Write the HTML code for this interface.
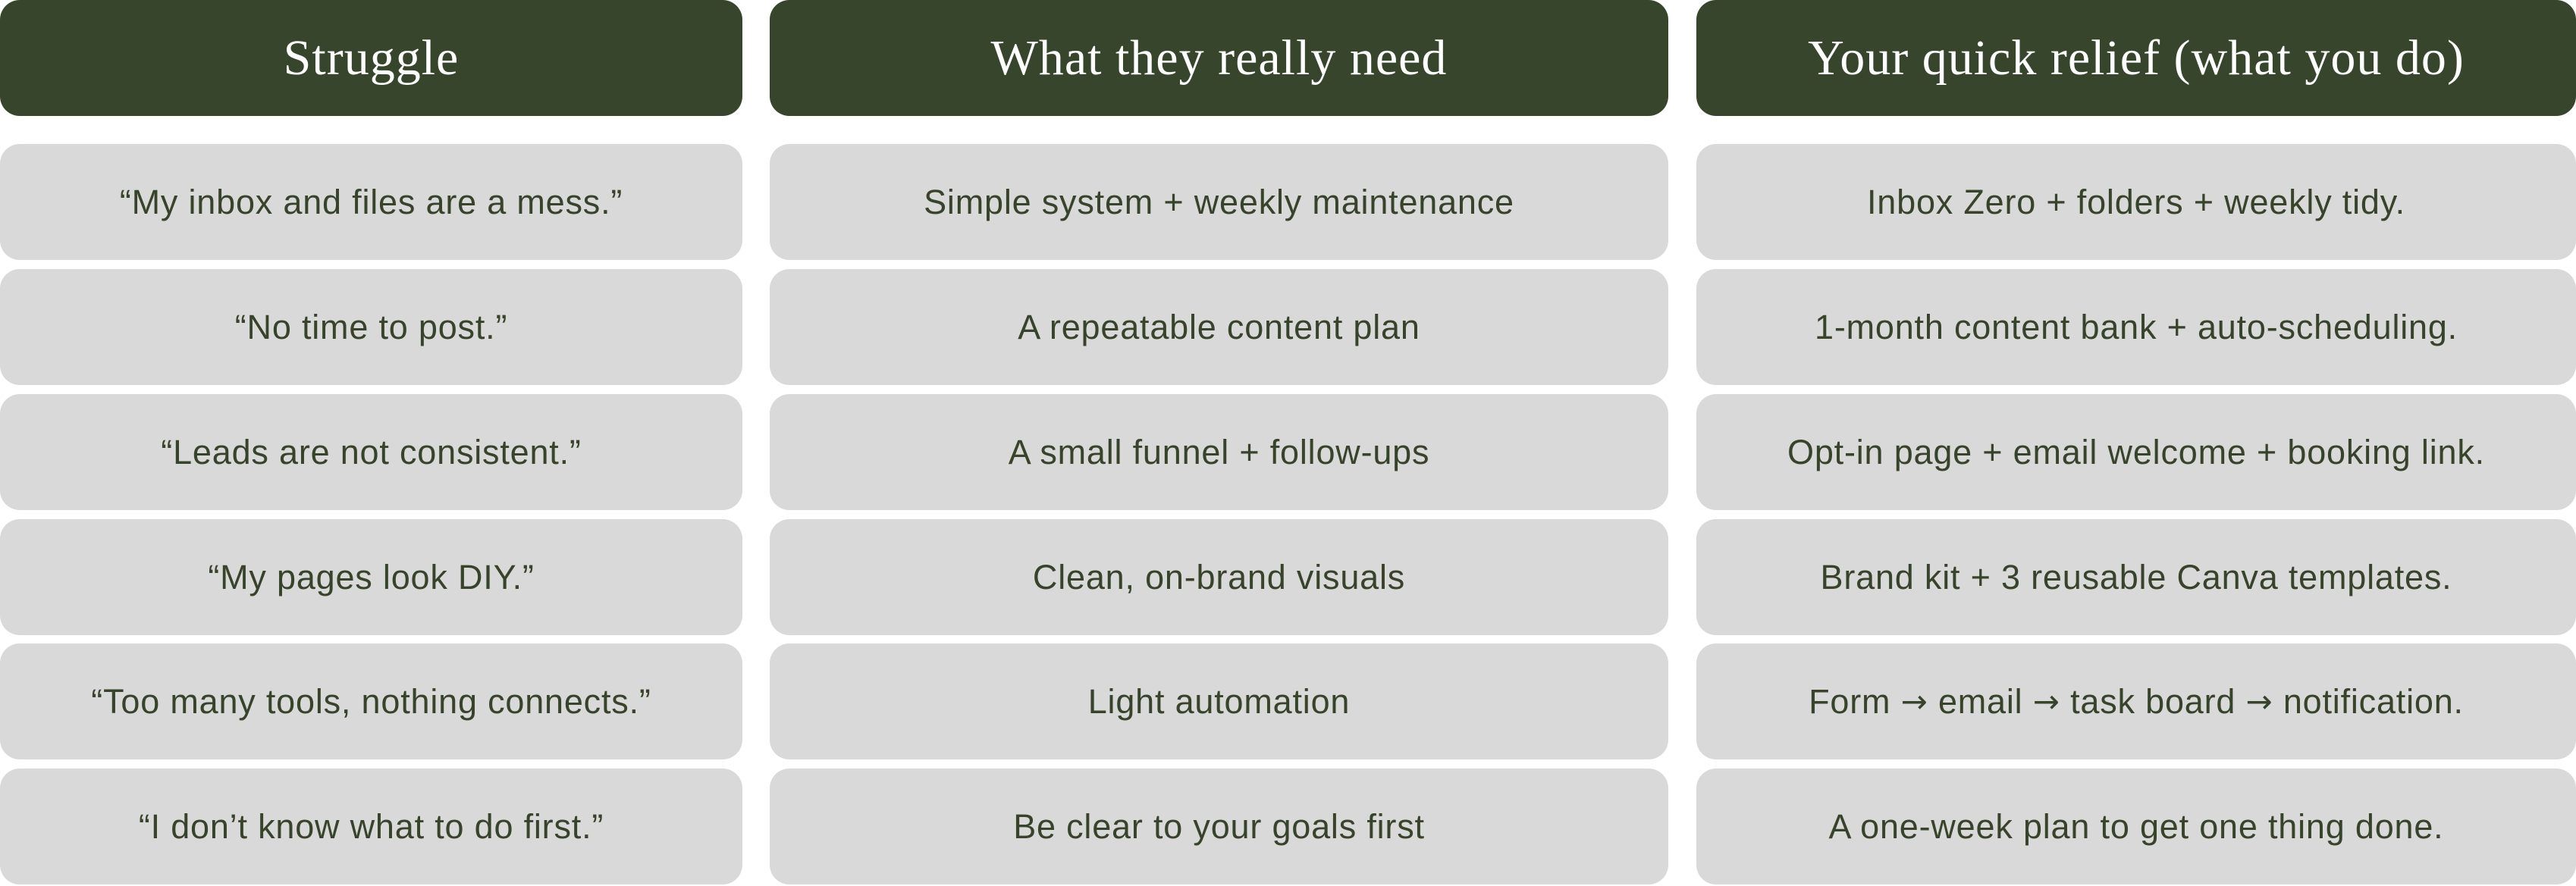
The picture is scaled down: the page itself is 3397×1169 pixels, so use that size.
<!DOCTYPE html>
<html><head><meta charset="utf-8"><style>
html,body{margin:0;padding:0;background:#fff;}
body{width:3397px;height:1169px;position:relative;overflow:hidden;font-family:"Liberation Sans",sans-serif;}
.b{position:absolute;border-radius:26px;display:flex;align-items:center;justify-content:center;text-align:center;white-space:pre;}
.h{background:#37452c;color:#fff;font-family:"Liberation Serif",serif;font-size:66px;letter-spacing:1px;top:0;height:153px;}
.c{background:#d9d9d9;color:#37432b;font-size:45px;letter-spacing:0.8px;height:153px;}
.a{font-family:"DejaVu Sans",sans-serif;font-size:42px;}
</style></head><body>
<div class="b h" style="left:0;width:979px">Struggle</div>
<div class="b h" style="left:1015px;width:1185px">What they really need</div>
<div class="b h" style="left:2237px;width:1160px">Your quick relief (what you do)</div>

<div class="b c" style="left:0;width:979px;top:190px">“My inbox and files are a mess.”</div>
<div class="b c" style="left:1015px;width:1185px;top:190px">Simple system + weekly maintenance</div>
<div class="b c" style="left:2237px;width:1160px;top:190px">Inbox Zero + folders + weekly tidy.</div>

<div class="b c" style="left:0;width:979px;top:355px">“No time to post.”</div>
<div class="b c" style="left:1015px;width:1185px;top:355px">A repeatable content plan</div>
<div class="b c" style="left:2237px;width:1160px;top:355px">1-month content bank + auto-scheduling.</div>

<div class="b c" style="left:0;width:979px;top:520px">“Leads are not consistent.”</div>
<div class="b c" style="left:1015px;width:1185px;top:520px">A small funnel + follow-ups</div>
<div class="b c" style="left:2237px;width:1160px;top:520px">Opt-in page + email welcome + booking link.</div>

<div class="b c" style="left:0;width:979px;top:685px">“My pages look DIY.”</div>
<div class="b c" style="left:1015px;width:1185px;top:685px">Clean, on-brand visuals</div>
<div class="b c" style="left:2237px;width:1160px;top:685px">Brand kit + 3 reusable Canva templates.</div>

<div class="b c" style="left:0;width:979px;top:849px">“Too many tools, nothing connects.”</div>
<div class="b c" style="left:1015px;width:1185px;top:849px">Light automation</div>
<div class="b c" style="left:2237px;width:1160px;top:849px">Form <span class="a">→</span> email <span class="a">→</span> task board <span class="a">→</span> notification.</div>

<div class="b c" style="left:0;width:979px;top:1014px">“I don’t know what to do first.”</div>
<div class="b c" style="left:1015px;width:1185px;top:1014px">Be clear to your goals first</div>
<div class="b c" style="left:2237px;width:1160px;top:1014px">A one-week plan to get one thing done.</div>
</body></html>
